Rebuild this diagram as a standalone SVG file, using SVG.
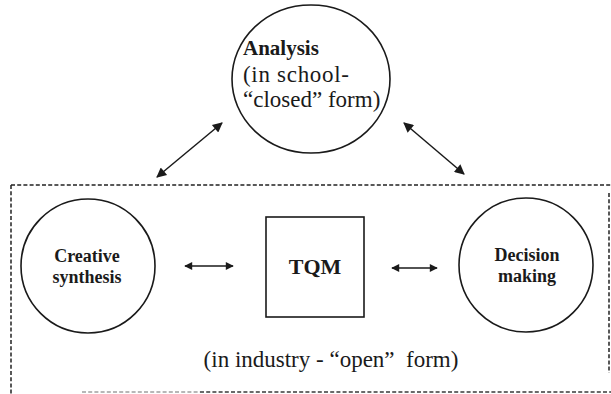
<svg xmlns="http://www.w3.org/2000/svg" width="611" height="394" viewBox="0 0 611 394">
  <style>
    .shape { fill: none; stroke: #1a1a1a; stroke-width: 1.6; }
    .frame { fill: none; stroke: #222222; stroke-width: 1.5; stroke-dasharray: 4 2.2; }
    .link { fill: none; stroke: #1a1a1a; stroke-width: 1.5; }
    .bold { font-family: "Liberation Serif", "Times New Roman", serif; font-weight: bold; fill: #1a1a1a; }
    .reg { font-family: "Liberation Serif", "Times New Roman", serif; fill: #1a1a1a; }
  </style>
  <defs>
    <marker id="head" viewBox="0 0 10 10" refX="9" refY="5" markerWidth="9" markerHeight="8" markerUnits="userSpaceOnUse" orient="auto-start-reverse">
      <path d="M0,0 L10,5 L0,10 z" fill="#1a1a1a"/>
    </marker>
    <marker id="headBig" viewBox="0 0 10 10" refX="9" refY="5" markerWidth="12" markerHeight="10" markerUnits="userSpaceOnUse" orient="auto-start-reverse">
      <path d="M0,0 L10,5 L0,10 z" fill="#1a1a1a"/>
    </marker>
  </defs>

  <rect width="611" height="394" fill="#ffffff"/>

  <!-- dashed frame around the industry part -->
  <g id="industry-frame">
    <line class="frame" x1="11" y1="185" x2="611" y2="185"/>
    <line class="frame" x1="11" y1="185" x2="11" y2="394"/>
    <line class="frame" x1="609" y1="193" x2="609" y2="373"/>
    <line class="frame" x1="82" y1="392" x2="200" y2="392" style="stroke:#a0a0a0"/>
    <line class="frame" x1="200" y1="392" x2="611" y2="392" style="stroke:#3a3a3a"/>
  </g>

  <g id="connectors">
    <line class="link" x1="157" y1="177" x2="222" y2="123" marker-start="url(#headBig)" marker-end="url(#headBig)"/>
    <line class="link" x1="404" y1="123" x2="464" y2="174" marker-start="url(#headBig)" marker-end="url(#headBig)"/>
    <line class="link" x1="185" y1="266" x2="233" y2="266" marker-start="url(#head)" marker-end="url(#head)"/>
    <line class="link" x1="392" y1="268" x2="437" y2="268" marker-start="url(#head)" marker-end="url(#head)"/>
  </g>

  <g id="analysis">
    <ellipse class="shape" cx="311" cy="79" rx="79" ry="74"/>
    <text class="bold" x="243" y="55" font-size="21">Analysis</text>
    <text class="reg" x="243" y="82" font-size="23" textLength="106" lengthAdjust="spacing">(in school-</text>
    <text class="reg" x="243" y="107" font-size="23">“closed” form)</text>
  </g>

  <g id="creative-synthesis">
    <circle class="shape" cx="88" cy="266" r="67"/>
    <text class="bold" x="87" y="262" font-size="18" text-anchor="middle">Creative</text>
    <text class="bold" x="87" y="283" font-size="18" text-anchor="middle">synthesis</text>
  </g>

  <g id="tqm">
    <rect class="shape" x="266" y="217" width="98" height="100"/>
    <text class="bold" x="315" y="274" font-size="22" text-anchor="middle">TQM</text>
  </g>

  <g id="decision-making">
    <circle class="shape" cx="526" cy="265" r="67"/>
    <text class="bold" x="527" y="261" font-size="18" text-anchor="middle">Decision</text>
    <text class="bold" x="527" y="282" font-size="18" text-anchor="middle">making</text>
  </g>

  <text class="reg" x="331" y="367" font-size="23" text-anchor="middle" xml:space="preserve">(in industry - “open”  form)</text>
</svg>
